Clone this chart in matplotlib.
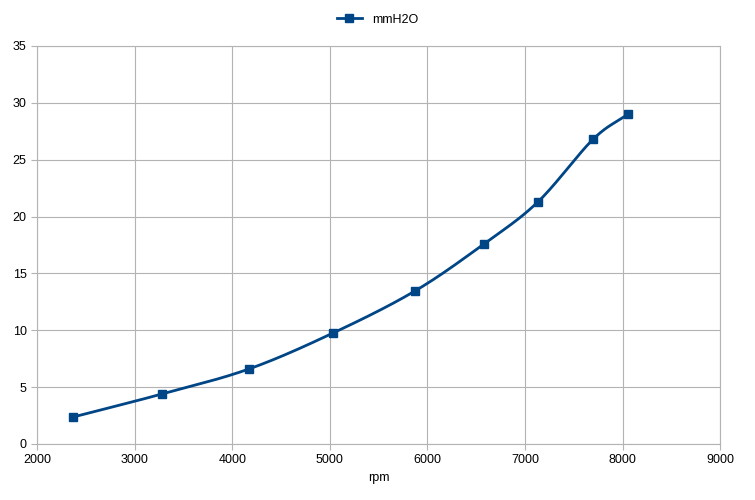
import numpy as np
import matplotlib
matplotlib.use("Agg")
import matplotlib.pyplot as plt

plt.rcParams['font.family'] = ['Liberation Sans', 'DejaVu Sans']

rpm = [2369, 3281, 4172, 5033, 5873, 6580, 7133, 7697, 8055]
mmH2O = [2.37, 4.4, 6.6, 9.76, 13.46, 17.6, 21.3, 26.8, 29.0]

def smooth(x, y, n=30):
    x = np.asarray(x, float); y = np.asarray(y, float)
    px = np.concatenate([[2*x[0]-x[1]], x, [2*x[-1]-x[-2]]])
    py = np.concatenate([[2*y[0]-y[1]], y, [2*y[-1]-y[-2]]])
    ox, oy = [], []
    t = np.linspace(0, 1, n)
    for i in range(1, len(px)-2):
        for p, o in ((px, ox), (py, oy)):
            p0, p1, p2, p3 = p[i-1], p[i], p[i+1], p[i+2]
            o.extend(0.5*((2*p1) + (-p0+p2)*t + (2*p0-5*p1+4*p2-p3)*t**2 + (-p0+3*p1-3*p2+p3)*t**3))
    return ox, oy

fig = plt.figure(figsize=(7.55, 5.0), dpi=100)
ax = fig.add_axes([0.049, 0.112, 0.905, 0.796])
col = '#004586'
sx, sy = smooth(rpm, mmH2O)
ax.plot(sx, sy, color=col, lw=2)
ax.plot(rpm, mmH2O, 's', color=col, ms=6)
ax.plot([], [], '-s', color=col, lw=2, ms=6, label='mmH2O')
ax.set_xlim(2000, 9000)
ax.set_ylim(0, 35)
ax.set_xticks(range(2000, 9001, 1000))
ax.set_yticks(range(0, 36, 5))
ax.grid(True, color='#b3b3b3', lw=0.8)
for s in ax.spines.values():
    s.set_color('#b3b3b3')
ax.tick_params(colors='#b3b3b3', labelcolor='black', labelsize=9, length=4)
ax.set_xlabel('rpm', fontsize=9, labelpad=4)
fig.legend(loc='upper center', bbox_to_anchor=(0.5, 0.995), frameon=False, fontsize=9, handlelength=2)
fig.savefig('out.png', dpi=100)
